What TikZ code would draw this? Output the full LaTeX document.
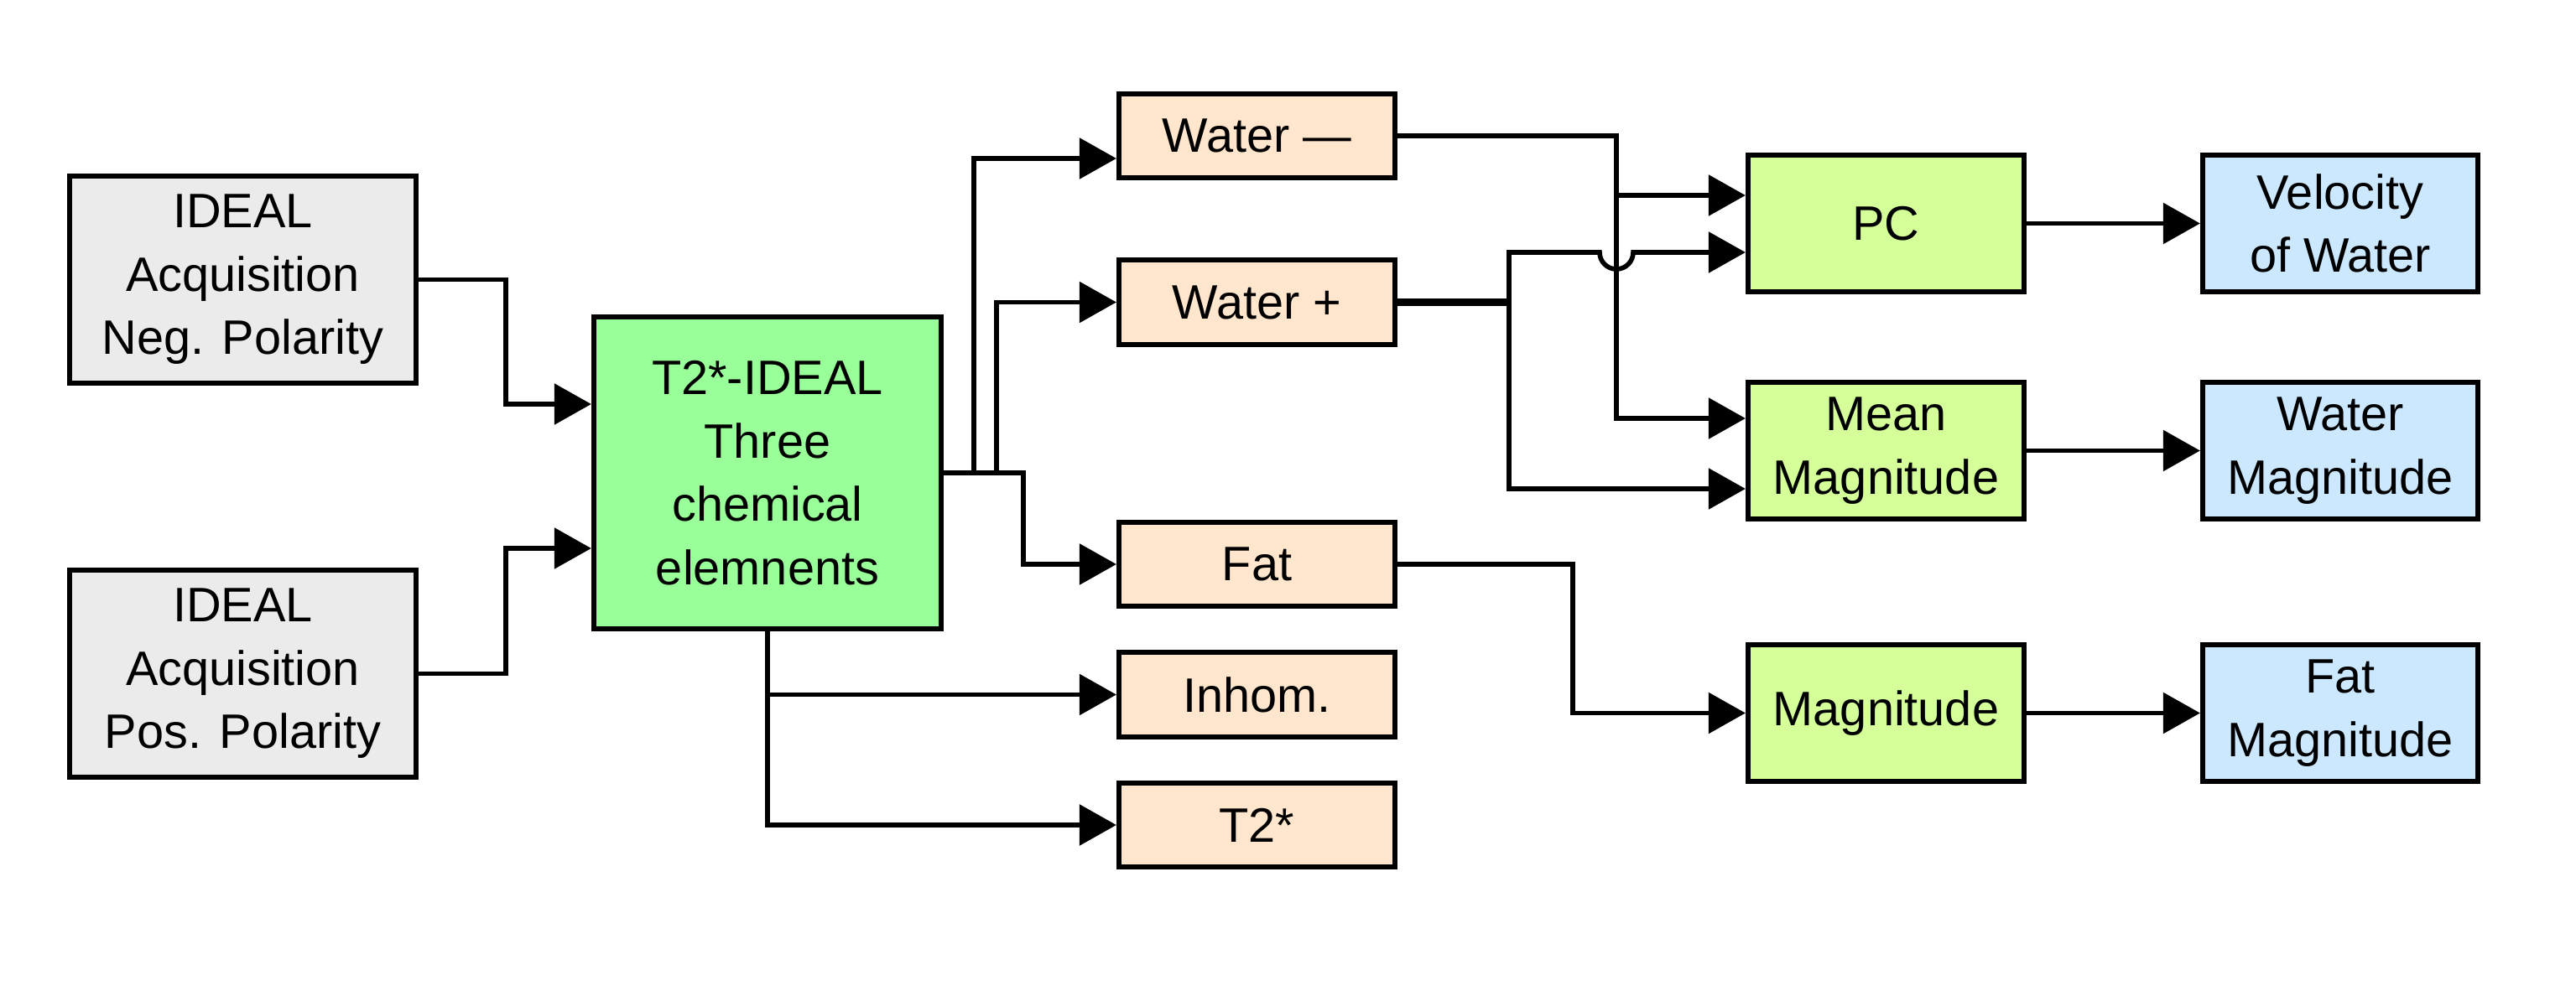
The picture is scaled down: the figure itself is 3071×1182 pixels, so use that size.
\documentclass[tikz,border=0pt]{standalone}
\usepackage{fontspec}
\setmainfont{Liberation Sans}
\usetikzlibrary{arrows.meta}
\definecolor{cgray}{HTML}{EBEBEB}
\definecolor{cgreen}{HTML}{99FF99}
\definecolor{corange}{HTML}{FFE6CC}
\definecolor{clime}{HTML}{D5FF99}
\definecolor{cblue}{HTML}{CCE8FF}
\begin{document}
\begin{tikzpicture}[x=0.01cm,y=-0.01cm,
  box/.style={draw=black, line width=1.7pt, align=center, inner sep=0pt,
    font=\fontsize{16.4}{21.5}\selectfont},
  bigbox/.style={box, minimum width=4.13cm, minimum height=2.47cm},
  small/.style={box, fill=corange, minimum width=3.29cm, minimum height=1.0cm},
  proc/.style={box, fill=clime, minimum width=3.29cm, minimum height=1.63cm},
  outb/.style={box, fill=cblue, minimum width=3.28cm, minimum height=1.63cm},
  arr/.style={-{Triangle[length=0.44cm,width=0.48cm]}, line width=1.6pt}]
\useasboundingbox (0,0) rectangle (3071,1182);

% nodes
\node[bigbox, fill=cgray] (neg) at (289.5,333.5) {IDEAL\\Acquisition\\Neg. Polarity};
\node[bigbox, fill=cgray] (pos) at (289.5,803.5) {IDEAL\\Acquisition\\Pos. Polarity};
\node[box, fill=cgreen, minimum width=4.14cm, minimum height=3.72cm] (t2) at (915,564) {T2*-IDEAL\\Three\\chemical\\elemnents};

\node[small] (wm) at (1498.5,162) {Water —};
\node[small] (wp) at (1498.5,360.5) {Water +};
\node[small] (fat) at (1498.5,673) {Fat};
\node[small] (inh) at (1498.5,828.5) {Inhom.};
\node[small] (t2s) at (1498.5,984) {T2*};

\node[proc] (pc) at (2248.5,266.5) {PC};
\node[proc] (mean) at (2248.5,537.5) {Mean\\Magnitude};
\node[proc] (mag) at (2248.5,850.5) {Magnitude};

\node[outb] (vel) at (2790,266.5) {Velocity\\of Water};
\node[outb] (wmag) at (2790,537.5) {Water\\Magnitude};
\node[outb] (fmag) at (2790,850.5) {Fat\\Magnitude};

% helper levels
\coordinate (t2a) at (0,482);
\coordinate (t2b) at (0,654);
\coordinate (wma) at (0,189);
\coordinate (pca) at (0,233);
\coordinate (pcb) at (0,301);
\coordinate (mea) at (0,499);
\coordinate (meb) at (0,583);

% inputs to T2
\draw[arr] (neg.east) -- (603,333.5) -- (603,482) -- (t2.west |- t2a);
\draw[arr] (pos.east) -- (603,803.5) -- (603,654) -- (t2.west |- t2b);

% T2 outputs
\draw[arr] (t2.east) -- (1161,564) -- (1161,189) -- (wm.west |- wma);
\draw[arr] (t2.east) -- (1188,564) -- (1188,360.5) -- (wp.west);
\draw[arr] (t2.east) -- (1220,564) -- (1220,673) -- (fat.west);
\draw[arr] (t2.south) -- (915,828.5) -- (inh.west);
\draw[arr] (t2.south) -- (915,984) -- (t2s.west);

% Water - to PC and Mean
\draw[arr] (wm.east) -- (1927,162) -- (1927,233) -- (pc.west |- pca);
\draw[arr] (wm.east) -- (1927,162) -- (1927,499) -- (mean.west |- mea);

% Water + to PC (with hop) and Mean
\draw[line width=2.4pt] (wp.east) -- (1799,360.5);
\draw[arr] (wp.east) -- (1799,360.5) -- (1799,301) -- (1907,301)
  arc[start angle=180, end angle=360, radius=0.2cm] -- (pc.west |- pcb);
\draw[arr] (wp.east) -- (1799,360.5) -- (1799,583) -- (mean.west |- meb);

% Fat to Magnitude
\draw[arr] (fat.east) -- (1875,673) -- (1875,850.5) -- (mag.west);

% to outputs
\draw[arr] (pc.east) -- (vel.west);
\draw[arr] (mean.east) -- (wmag.west);
\draw[arr] (mag.east) -- (fmag.west);
\end{tikzpicture}
\end{document}
